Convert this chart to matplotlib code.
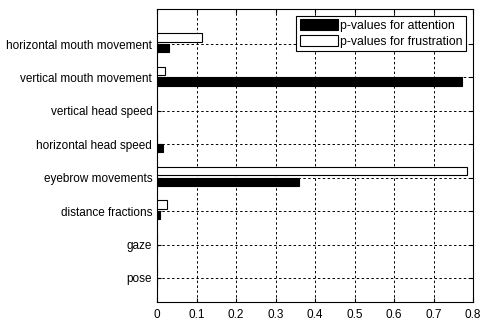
import numpy as np
import matplotlib.pyplot as plt

plt.rcParams['font.family'] = ['Liberation Sans', 'DejaVu Sans']

features = ["pose", "gaze", "distance fractions", "eyebrow movements",
            "horizontal head speed", "vertical head speed",
            "vertical mouth movement", "horizontal mouth movement"]
p_attention = [0.0, 0.0, 0.007, 0.359, 0.014, 0.0, 0.771, 0.030]
p_frustration = [0.0, 0.0, 0.026, 0.786, 0.0, 0.0, 0.019, 0.114]

pos = np.arange(1, len(features) + 1)
h = 0.25

fig = plt.figure(figsize=(4.81, 3.28), dpi=100)
ax = fig.add_axes([157 / 481, 26 / 328, 316 / 481, 293 / 328])

ax.barh(pos - 0.12, p_attention, height=h, color="black", edgecolor="black",
        linewidth=0.8, label="p-values for attention", zorder=3)
ax.barh(pos + 0.2, p_frustration, height=h, color="white", edgecolor="black",
        linewidth=0.8, label="p-values for frustration", zorder=3)

ax.set_xlim(0, 0.8)
ax.set_ylim(0.28, 9.05)
ax.set_xticks(np.arange(0, 0.81, 0.1))
ax.set_xticklabels(["0", "0.1", "0.2", "0.3", "0.4", "0.5", "0.6", "0.7", "0.8"])
ax.set_yticks(pos)
ax.set_yticklabels(features)
ax.tick_params(axis="both", direction="in", length=3, labelsize=8.5,
               top=True, right=True, colors="black")
ax.tick_params(axis="x", pad=5)
ax.grid(True, color="black", linestyle=(0, (2.5, 2.5)), linewidth=0.7, zorder=1)
for s in ax.spines.values():
    s.set_linewidth(0.8)

leg = ax.legend(loc="upper right", fontsize=8.8, fancybox=False, framealpha=1,
                edgecolor="black", handlelength=3.1, handleheight=1.0,
                borderaxespad=0.55, handletextpad=0.2, labelspacing=0.25,
                borderpad=0.3)
leg.get_frame().set_linewidth(0.8)

fig.savefig("out.png", dpi=100)
